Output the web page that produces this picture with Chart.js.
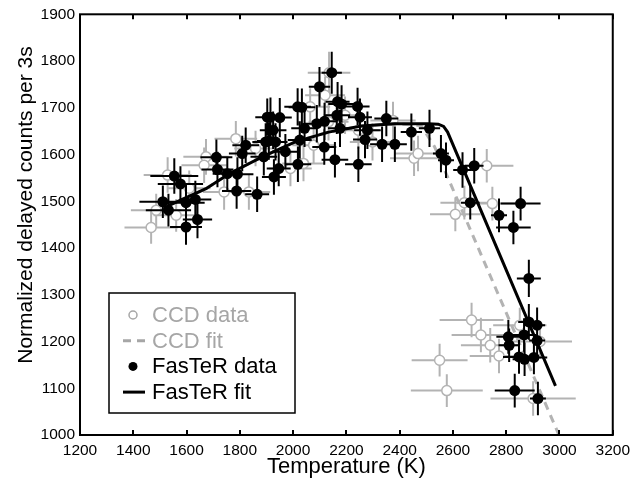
<!DOCTYPE html>
<html>
<head>
<meta charset="utf-8">
<script src="https://cdn.jsdelivr.net/npm/chart.js@4.4.1/dist/chart.umd.min.js"></script>
<style>
html, body { margin: 0; padding: 0; background: #fff; }
#wrap { width: 636px; height: 487px; }
</style>
</head>
<body>
<div id="wrap"><canvas id="tempChart"></canvas></div>
<script>
// CCD data (open grey circles)
const ccdT = [1467, 1486, 1529, 1561, 1673, 1666, 1741, 1834, 1859, 1785, 1610, 1990, 2039, 2077, 2064, 2135, 2120, 2195, 2133, 2245, 2298, 2375, 2454, 2469, 2609, 2643, 2727, 2748, 2670, 2705, 2740, 2773, 2550, 2577, 2851, 2927, 2901];
const ccdCounts = [1444, 1481, 1556, 1470, 1595, 1577, 1520, 1520, 1613, 1634, 1528, 1570, 1581, 1620, 1702, 1775, 1727, 1684, 1670, 1652, 1627, 1673, 1592, 1602, 1472, 1497, 1576, 1495, 1246, 1214, 1192, 1169, 1160, 1095, 1235, 1200, 1078];
const ccdTErr = [100, 95, 90, 85, 85, 85, 80, 80, 80, 80, 80, 80, 80, 80, 75, 80, 75, 75, 75, 80, 85, 85, 90, 90, 95, 90, 100, 95, 120, 110, 110, 110, 105, 135, 100, 120, 160];
const ccdCountsErr = [35, 35, 38, 35, 38, 38, 38, 38, 38, 38, 38, 38, 38, 38, 40, 45, 40, 40, 40, 40, 40, 40, 38, 38, 36, 36, 36, 36, 37, 37, 37, 37, 35, 35, 37, 37, 37];

// FasTeR data (filled black circles)
const fasterT = [1554, 1577, 1511, 1532, 1598, 1633, 1598, 1641, 1712, 1716, 1753, 1791, 1788, 1865, 1822, 1809, 1890, 1897, 1903, 2145, 2099, 2017, 2033, 1915, 1950, 2167, 2182, 2242, 2251, 2164, 2350, 1925, 2043, 2089, 2118, 2176, 2279, 2444, 1909, 1934, 2025, 2270, 2334, 2382, 1971, 2117, 2157, 2245, 2018, 1946, 1928, 2512, 2555, 2574, 2636, 2680, 2665, 2854, 2773, 2827, 2885, 2885, 2916, 2808, 2867, 2811, 2916, 2848, 2869, 2904, 2832, 2919];
const fasterCounts = [1554, 1537, 1499, 1481, 1497, 1504, 1445, 1461, 1594, 1568, 1559, 1558, 1522, 1515, 1620, 1602, 1595, 1627, 1680, 1775, 1745, 1702, 1701, 1680, 1679, 1713, 1708, 1703, 1680, 1684, 1677, 1652, 1656, 1666, 1671, 1656, 1652, 1648, 1629, 1627, 1631, 1632, 1622, 1622, 1606, 1616, 1589, 1579, 1579, 1570, 1552, 1656, 1602, 1588, 1567, 1576, 1497, 1495, 1470, 1444, 1335, 1242, 1235, 1210, 1214, 1192, 1202, 1167, 1162, 1166, 1095, 1078];
const fasterTErr = [90, 85, 88, 85, 70, 60, 60, 55, 60, 60, 55, 60, 55, 45, 50, 50, 50, 50, 45, 38, 40, 50, 50, 45, 45, 45, 50, 45, 45, 50, 45, 50, 50, 45, 45, 45, 50, 40, 45, 45, 45, 45, 45, 45, 50, 45, 50, 50, 50, 45, 45, 40, 30, 30, 35, 35, 35, 75, 30, 65, 45, 40, 30, 45, 45, 40, 30, 60, 45, 50, 75, 30];
const fasterCountsErr = [38, 38, 35, 35, 40, 40, 38, 40, 38, 38, 36, 36, 38, 38, 38, 38, 40, 40, 40, 45, 42, 40, 40, 42, 42, 42, 40, 40, 40, 40, 38, 40, 40, 40, 40, 40, 40, 40, 40, 40, 40, 40, 38, 38, 38, 38, 38, 38, 38, 38, 38, 40, 40, 38, 38, 38, 36, 36, 36, 36, 40, 38, 38, 36, 36, 36, 36, 36, 36, 36, 36, 36];

// fits
const ccdFitT = [1530, 1673, 1760, 1884, 2008, 2133, 2257, 2381, 2480, 2530, 2998];
const ccdFitCounts = [1490, 1527, 1559, 1595, 1627, 1648, 1661, 1666, 1662, 1618, 1000];
const fasterFitT = [1530, 1673, 1760, 1884, 2008, 2133, 2257, 2381, 2506, 2545, 2565, 2580, 2985];
const fasterFitCounts = [1490, 1527, 1559, 1595, 1627, 1648, 1661, 1666, 1666, 1665, 1660, 1648, 1105];

const tempTicks = [1200, 1400, 1600, 1800, 2000, 2200, 2400, 2600, 2800, 3000, 3200];
const countTicks = [1000, 1100, 1200, 1300, 1400, 1500, 1600, 1700, 1800, 1900];

const GREY = '#b3b3b3';
const FONT = "'Liberation Sans', Arial, Helvetica, sans-serif";

const toPoints = (xs, ys) => xs.map((x, i) => ({ x: x, y: ys[i] }));

// error bars drawn right before each dataset's markers
const errorBars = {
    id: 'errorBars',
    beforeDatasetDraw(chart, args) {
        const ds = chart.data.datasets[args.index];
        if (!ds.xErr) return;
        const { ctx, chartArea, scales: { x, y } } = chart;
        ctx.save();
        ctx.beginPath();
        ctx.rect(chartArea.left, chartArea.top, chartArea.right - chartArea.left, chartArea.bottom - chartArea.top);
        ctx.clip();
        ctx.strokeStyle = ds.errColor;
        ctx.lineWidth = 2;
        ctx.beginPath();
        ds.data.forEach((p, i) => {
            const px = x.getPixelForValue(p.x);
            const py = y.getPixelForValue(p.y);
            ctx.moveTo(x.getPixelForValue(p.x - ds.xErr[i]), py);
            ctx.lineTo(x.getPixelForValue(p.x + ds.xErr[i]), py);
            ctx.moveTo(px, y.getPixelForValue(p.y - ds.yErr[i]));
            ctx.lineTo(px, y.getPixelForValue(p.y + ds.yErr[i]));
        });
        ctx.stroke();
        ctx.restore();
    }
};

// box, inward ticks, y title and legend
const frame = {
    id: 'frame',
    afterDraw(chart) {
        const { ctx, chartArea: a, scales: { x, y } } = chart;
        ctx.save();
        ctx.strokeStyle = '#000';
        ctx.lineWidth = 2;
        ctx.strokeRect(a.left, a.top, a.right - a.left, a.bottom - a.top);
        ctx.beginPath();
        tempTicks.forEach(t => {
            const px = Math.round(x.getPixelForValue(t));
            ctx.moveTo(px, a.bottom);
            ctx.lineTo(px, a.bottom - 5);
            ctx.moveTo(px, a.top);
            ctx.lineTo(px, a.top + 5);
        });
        ctx.stroke();

        // y axis title
        ctx.fillStyle = '#000';
        ctx.font = '21px ' + FONT;
        ctx.textAlign = 'center';
        ctx.textBaseline = 'middle';
        ctx.translate(26, 205);
        ctx.rotate(-Math.PI / 2);
        ctx.fillText('Normalized delayed counts per 3s', 0, 0);
        ctx.restore();

        // legend
        const lx = a.left + 29, ly = a.bottom - 142, lw = 186, lh = 120;
        ctx.save();
        ctx.fillStyle = '#fff';
        ctx.fillRect(lx, ly, lw, lh);
        ctx.strokeStyle = '#000';
        ctx.lineWidth = 1.5;
        ctx.strokeRect(lx, ly, lw, lh);
        ctx.font = '22px ' + FONT;
        ctx.textAlign = 'left';
        ctx.textBaseline = 'middle';
        const items = chart.data.datasets;
        items.forEach((ds, i) => {
            const cy = ly + 22 + i * 25.7;
            const mx = lx + 24;
            ctx.strokeStyle = ds.legendColor;
            ctx.fillStyle = ds.legendColor;
            if (ds.showLine) {
                ctx.lineWidth = 3;
                ctx.setLineDash(ds.borderDash || []);
                ctx.beginPath();
                ctx.moveTo(mx - 10, cy);
                ctx.lineTo(mx + 12, cy);
                ctx.stroke();
                ctx.setLineDash([]);
            } else {
                ctx.lineWidth = 1.5;
                ctx.beginPath();
                ctx.arc(mx, cy, ds.pointRadius - 1, 0, Math.PI * 2);
                if (ds.pointBackgroundColor !== '#fff') ctx.fill();
                else ctx.stroke();
            }
            ctx.fillStyle = ds.legendColor;
            ctx.fillText(ds.label, lx + 43, cy + 1);
        });
        ctx.restore();
    }
};

const ctx = document.getElementById('tempChart').getContext('2d');
const tempChart = new Chart(ctx, {
    type: 'scatter',
    data: {
        datasets: [{
            label: 'CCD data',
            data: toPoints(ccdT, ccdCounts),
            xErr: ccdTErr,
            yErr: ccdCountsErr,
            errColor: GREY,
            legendColor: '#a6a6a6',
            pointRadius: 5,
            pointBorderWidth: 1.5,
            pointBorderColor: GREY,
            pointBackgroundColor: '#fff',
            order: 4
        }, {
            label: 'CCD fit',
            data: toPoints(ccdFitT, ccdFitCounts),
            showLine: true,
            borderColor: GREY,
            borderWidth: 3,
            borderDash: [8, 6],
            legendColor: '#a6a6a6',
            pointRadius: 0,
            order: 3
        }, {
            label: 'FasTeR data',
            data: toPoints(fasterT, fasterCounts),
            xErr: fasterTErr,
            yErr: fasterCountsErr,
            errColor: '#000',
            legendColor: '#000',
            pointRadius: 5.5,
            pointBorderWidth: 0,
            pointBackgroundColor: '#000',
            order: 2
        }, {
            label: 'FasTeR fit',
            data: toPoints(fasterFitT, fasterFitCounts),
            showLine: true,
            borderColor: '#000',
            borderWidth: 3,
            legendColor: '#000',
            pointRadius: 0,
            order: 1
        }]
    },
    options: {
        responsive: true,
        maintainAspectRatio: false,
        animation: false,
        layout: {
            padding: { top: 14, right: 20, left: 0, bottom: 0 }
        },
        plugins: {
            legend: { display: false },
            tooltip: { enabled: false }
        },
        scales: {
            x: {
                type: 'linear',
                min: 1200,
                max: 3200,
                afterBuildTicks: s => { s.ticks = tempTicks.map(v => ({ value: v })); },
                ticks: { color: '#000', font: { family: FONT, size: 15.5 }, padding: 6, autoSkip: false, maxRotation: 0, callback: v => String(v) },
                grid: { display: false, drawTicks: false },
                border: { display: false },
                title: {
                    display: true,
                    text: 'Temperature (K)',
                    color: '#000',
                    font: { family: FONT, size: 22 },
                    padding: { top: 0, bottom: 7 }
                },
                afterFit: s => { s.height = 52; }
            },
            y: {
                min: 1000,
                max: 1900,
                afterBuildTicks: s => { s.ticks = countTicks.map(v => ({ value: v })); },
                ticks: { color: '#000', font: { family: FONT, size: 15.5 }, padding: 5, callback: v => String(v) },
                grid: { display: false, drawTicks: false },
                border: { display: false },
                afterFit: s => { s.width = 80; }
            }
        }
    },
    plugins: [errorBars, frame]
});
</script>
</body>
</html>
